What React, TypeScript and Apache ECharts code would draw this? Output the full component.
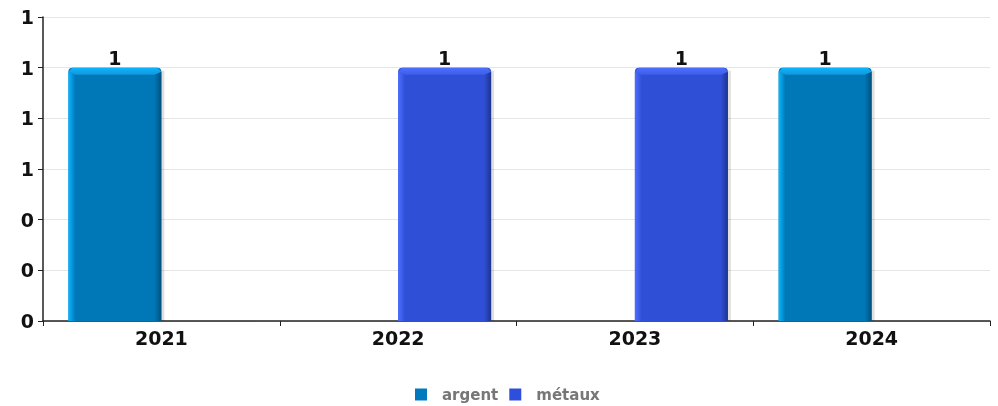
import React, { useEffect, useRef } from "react";
import * as echarts from "echarts";

const categories = ["2021", "2022", "2023", "2024"];
const argentValues: (number | null)[] = [1, null, null, 1];
const metauxValues: (number | null)[] = [null, 1, 1, null];
const seriesNames = ["argent", "métaux"];

const palettes = [
  { main: "#0077b6", light: "#0cb6ff", top: "#1197dc", dark: "#00517e", legend: "#0079bd" },
  { main: "#2f4fd6", light: "#4d6fff", top: "#3d5ee8", dark: "#1c348f", legend: "#2e4fdc" },
];

const BAR_W = 93;
const GAP = 0;
const BEV = 7;
const FONT = "DejaVu Sans";

function toPoints(values: (number | null)[]) {
  return values
    .map((v, i) => (v == null ? null : [i, v]))
    .filter((d) => d != null) as number[][];
}

function makeRender(seriesIdx: number) {
  const p = palettes[seriesIdx];
  return (params: any, api: any) => {
    const ci = api.value(0);
    const v = api.value(1);
    const top = api.coord([ci, v]);
    const base = api.coord([ci, 0]);
    const groupW = 2 * BAR_W + GAP;
    const x0 = top[0] - groupW / 2 + seriesIdx * (BAR_W + GAP);
    const x1 = x0 + BAR_W;
    const yt = top[1];
    const yb = base[1];
    const r = 4;
    return {
      type: "group",
      children: [
        {
          type: "rect",
          shape: { x: x1, y: yt + 3, width: 3, height: yb - yt - 3 },
          style: { fill: "rgba(0,0,0,0.12)" },
        },
        {
          type: "rect",
          shape: { x: x0, y: yt, width: BAR_W, height: yb - yt, r: [r, r, 0, 0] },
          style: { fill: p.main },
        },
        {
          type: "polygon",
          shape: { points: [[x0, yt + r], [x0 + BEV, yt + BEV], [x0 + BEV, yb], [x0, yb]] },
          style: {
            fill: new echarts.graphic.LinearGradient(0, 0, 1, 0, [
              { offset: 0, color: p.light },
              { offset: 1, color: p.main },
            ]),
          },
        },
        {
          type: "polygon",
          shape: { points: [[x1, yt + r], [x1 - BEV, yt + BEV], [x1 - BEV, yb], [x1, yb]] },
          style: {
            fill: new echarts.graphic.LinearGradient(0, 0, 1, 0, [
              { offset: 0, color: p.main },
              { offset: 1, color: p.dark },
            ]),
          },
        },
        {
          type: "polygon",
          shape: {
            points: [
              [x0 + r, yt],
              [x1 - r, yt],
              [x1, yt + r],
              [x1 - BEV, yt + BEV],
              [x0 + BEV, yt + BEV],
              [x0, yt + r],
            ],
          },
          style: {
            fill: new echarts.graphic.LinearGradient(0, 0, 0, 1, [
              { offset: 0, color: p.light },
              { offset: 1, color: p.top },
            ]),
          },
        },
        {
          type: "text",
          x: (x0 + x1) / 2,
          y: yt,
          style: {
            text: String(v),
            align: "center",
            verticalAlign: "bottom",
            fontFamily: FONT,
            fontWeight: "bold",
            fontSize: 19,
            fill: "#111",
          },
        },
      ],
    };
  };
}

export default function App() {
  const ref = useRef<HTMLDivElement>(null);
  useEffect(() => {
    if (!ref.current) return;
    const chart = echarts.init(ref.current, null, { renderer: "svg" });
    chart.setOption({
      animation: false,
      textStyle: { fontFamily: FONT },
      grid: { left: 43, right: 8, top: 17, bottom: 85 },
      legend: {
        top: 382,
        left: 410,
        itemWidth: 12,
        itemHeight: 12,
        itemGap: 11,
        icon: "rect",
        textStyle: {
          fontFamily: FONT,
          fontWeight: "bold",
          fontSize: 15,
          color: "#777",
          padding: [0, 0, 0, 10],
        },
        data: [
          { name: seriesNames[0], itemStyle: { color: palettes[0].legend } },
          { name: seriesNames[1], itemStyle: { color: palettes[1].legend } },
        ],
      },
      xAxis: {
        type: "category",
        data: categories,
        boundaryGap: true,
        axisLine: { lineStyle: { color: "#222", width: 1.5 } },
        axisTick: { show: true, length: 5, lineStyle: { color: "#222" } },
        axisLabel: { fontFamily: FONT, fontWeight: "bold", fontSize: 19, color: "#111", margin: 7 },
      },
      yAxis: {
        type: "value",
        min: 0,
        max: 1.2,
        interval: 0.2,
        axisLine: { show: true, lineStyle: { color: "#222", width: 1.5 } },
        axisTick: { show: true, length: 5, lineStyle: { color: "#222" } },
        splitLine: { lineStyle: { color: "#e6e6e6" } },
        axisLabel: {
          fontFamily: FONT,
          fontWeight: "bold",
          fontSize: 19,
          color: "#111",
          margin: 9,
          formatter: (v: number) => String(Math.round(v)),
        },
      },
      series: [
        {
          name: seriesNames[0],
          type: "custom",
          renderItem: makeRender(0),
          itemStyle: { color: palettes[0].legend },
          encode: { x: 0, y: 1 },
          data: toPoints(argentValues),
        },
        {
          name: seriesNames[1],
          type: "custom",
          renderItem: makeRender(1),
          itemStyle: { color: palettes[1].legend },
          encode: { x: 0, y: 1 },
          data: toPoints(metauxValues),
        },
      ],
    });
    return () => chart.dispose();
  }, []);
  return (
    <div
      ref={ref}
      style={{ position: "fixed", left: 0, top: 0, width: 998, height: 406 }}
    />
  );
}
